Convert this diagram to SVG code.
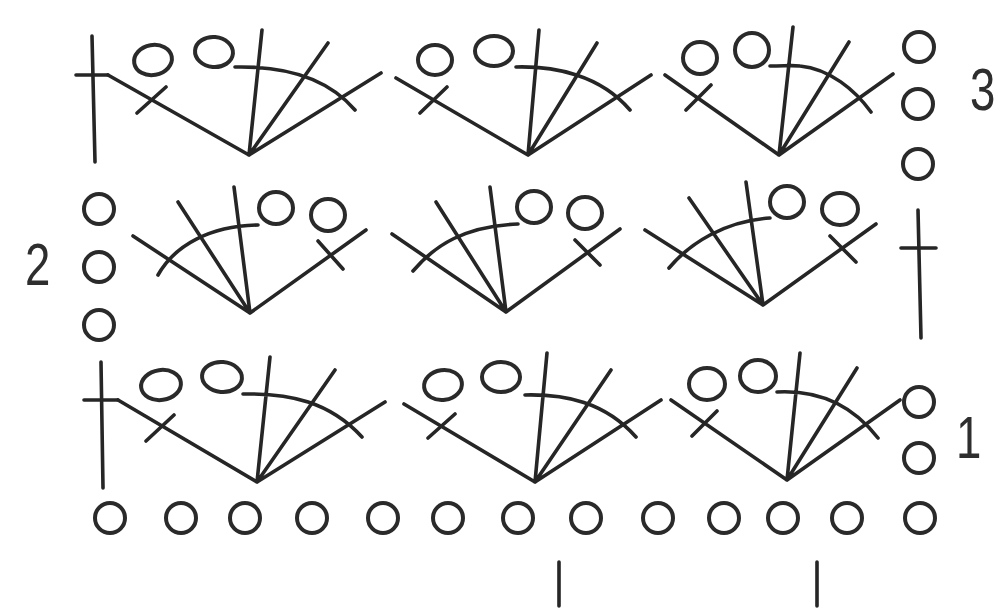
<svg xmlns="http://www.w3.org/2000/svg" width="996" height="609" viewBox="0 0 996 609">
<style>
.l{fill:none;stroke:#262626;stroke-width:3.6;stroke-linecap:round;stroke-linejoin:round}
.c{fill:none;stroke:#2a2a2a;stroke-width:4}
text{font-family:"Liberation Sans",Arial,sans-serif;font-size:60px;fill:#2e2e2e}
</style>
<rect width="996" height="609" fill="#fff"/>
<g id="connectors" class="l">
<path d="M92 36L95 162M76 75H108"/>
<path d="M108 75L249 155L381 73M137 113L166 87M249 155L262 30M249 155L328 43M235 67C280 66 325 75 355 110"/>
<path d="M396 78L528 155L651 75M420 113L447 87M528 155L539 30M528 155L597 43M516 67C555 66 600 75 630 110"/>
<path d="M665 75L779 155L893 74M686 110L711 85M779 155L793 27M779 155L849 42M770 66C785 66 792 65 800 66C830 69 855 90 871 112"/>
<path d="M133 236L250 313L366 230M158 275C175 245 210 226 258 225M178 202L250 313M234 187L250 313M318 241L343 269"/>
<path d="M392 234L506 312L620 229M413 271C435 245 465 226 518 224M436 202L506 312M490 187L506 312M575 240L600 265"/>
<path d="M645 230L763 305L876 224M669 268C690 243 725 221 770 218M689 198L763 305M746 182L763 305M830 236L856 262"/>
<path d="M918 210L921 338M901 248H936"/>
<path d="M101 362L103 488M84 400H118"/>
<path d="M118 400L257 482L385 402M146 441L174 415M257 482L270 357M257 482L335 370M243 394C290 393 330 402 362 437"/>
<path d="M404 404L535 482L661 400M428 438L455 414M535 482L547 353M535 482L611 370M525 395C565 394 605 402 636 437"/>
<path d="M671 400L787 480L900 400M692 436L717 411M787 480L800 353M787 480L857 368M777 392C815 390 850 402 878 438"/>
<path d="M559 562V606M817 562V606"/>
</g>
<g id="stitches" class="c">
<ellipse cx="153" cy="60" rx="19" ry="15" transform="rotate(-10 153 60)"/>
<ellipse cx="214" cy="52" rx="19" ry="15" transform="rotate(5 214 52)"/>
<ellipse cx="435" cy="60" rx="17" ry="15"/>
<ellipse cx="494" cy="51" rx="19" ry="15"/>
<ellipse cx="700" cy="58" rx="17" ry="16"/>
<ellipse cx="752" cy="50" rx="17" ry="17"/>
<circle cx="919" cy="47" r="15"/><circle cx="918" cy="104" r="15"/><circle cx="918" cy="164" r="15"/>
<circle cx="99" cy="209" r="15"/><circle cx="99" cy="267" r="15"/><circle cx="99" cy="325" r="15"/>
<ellipse cx="276" cy="208" rx="17" ry="16"/><ellipse cx="328" cy="215" rx="17" ry="16"/>
<ellipse cx="534" cy="207" rx="17" ry="16"/><ellipse cx="585" cy="213" rx="17" ry="16"/>
<ellipse cx="787" cy="202" rx="17" ry="16"/><ellipse cx="840" cy="209" rx="18" ry="16"/>
<ellipse cx="161" cy="385" rx="20" ry="15" transform="rotate(-8 161 385)"/>
<ellipse cx="222" cy="377" rx="20" ry="15" transform="rotate(5 222 377)"/>
<ellipse cx="443" cy="385" rx="19" ry="15" transform="rotate(-8 443 385)"/>
<ellipse cx="501" cy="377" rx="19" ry="15"/>
<ellipse cx="707" cy="384" rx="18" ry="16"/>
<ellipse cx="758" cy="376" rx="18" ry="16"/>
<circle cx="919" cy="402" r="15"/><circle cx="919" cy="458" r="15"/>
<circle cx="110" cy="518" r="15"/><circle cx="181" cy="518" r="15"/><circle cx="245" cy="518" r="15"/><circle cx="312" cy="518" r="15"/><circle cx="383" cy="518" r="15"/><circle cx="448" cy="518" r="15"/><circle cx="518" cy="518" r="15"/><circle cx="586" cy="518" r="15"/><circle cx="658" cy="518" r="15"/><circle cx="724" cy="518" r="15"/><circle cx="783" cy="518" r="15"/><circle cx="847" cy="518" r="15"/><circle cx="920" cy="518" r="15"/>
</g>
<g id="labels">
<text transform="translate(970 110) scale(.76 1)">3</text>
<text transform="translate(25 285) scale(.76 1)">2</text>
<text transform="translate(956 458) scale(.76 1)">1</text>
</g>
</svg>
